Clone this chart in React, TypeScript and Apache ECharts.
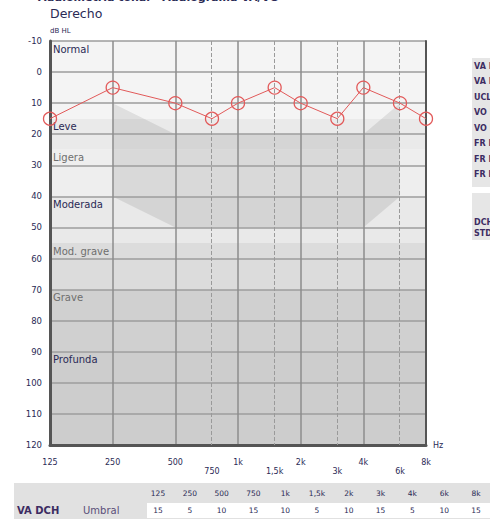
import React, { useEffect, useRef } from "react";
import * as echarts from "echarts";

// Test frequencies (Hz) and their printed labels
const FREQS = [125, 250, 500, 750, 1000, 1500, 2000, 3000, 4000, 6000, 8000];
const FREQ_LABELS = ["125", "250", "500", "750", "1k", "1,5k", "2k", "3k", "4k", "6k", "8k"];
// Air-conduction thresholds, right ear (dB HL)
const THRESHOLD_DB = [15, 5, 10, 15, 10, 5, 10, 15, 5, 10, 15];

const MID_FREQS = [750, 1500, 3000, 6000];

// Hearing-loss degree bands (dB HL edges)
const BAND_NAMES = ["Normal", "Leve", "Ligera", "Moderada", "Mod. grave", "Grave", "Profunda"];
const BAND_EDGES = [-10, 15, 25, 40, 55, 70, 90, 120];

// Speech-area outline (frequency, dB HL)
const SPEECH_FREQS = [250, 500, 4000, 6000, 6000, 4000, 500, 250];
const SPEECH_DB = [10, 20, 20, 10, 40, 50, 50, 40];

// Side legend entries
const LEGEND_ITEMS = ["VA DCH", "VA DCH enmasc.", "UCL DCH", "VO DCH", "VO DCH enmasc.", "FR DCH", "FR DCH enmasc.", "FR libre"];
const SIDE_ITEMS = ["DCH", "STD"];

const FONT = "DejaVu Sans";
const INK = "#2a2a55";
const BAND_FILLS = ["#f4f4f4", "#eaeaea", "#eeeeee", "#e9e9e9", "#dcdcdc", "#d0d0d0", "#cdcdcd"];
const BAND_INKS = [INK, INK, "#6e6e6e", INK, "#6e6e6e", "#6e6e6e", INK];

// Octave position relative to 125 Hz
const oct = (f: number) => Math.log2(f / 125);
const labelAt = (v: number) => {
  const i = FREQS.findIndex((f) => Math.abs(oct(f) - v) < 1e-6);
  return i >= 0 ? FREQ_LABELS[i] : "";
};

export default function App() {
  const ref = useRef<HTMLDivElement>(null);

  useEffect(() => {
    if (!ref.current) return;
    const chart = echarts.init(ref.current, undefined, { renderer: "svg" });

    const speechPts = SPEECH_FREQS.map((f, i) => [oct(f), SPEECH_DB[i]]);
    const bandData = BAND_NAMES.map((_, i) => [BAND_EDGES[i], BAND_EDGES[i + 1]]);

    const tableColX = (i: number) => 158 + i * 31.8;
    const graphic: any[] = [
      {
        type: "text", x: 38, y: -8,
        style: { text: "Audiometría tonal - Audiograma VA/VO", fontFamily: FONT, fontSize: 11, fontWeight: "bold", fill: INK },
      },
      {
        type: "text", x: 50, y: 7,
        style: { text: "Derecho", fontFamily: FONT, fontSize: 12.5, fill: INK },
      },
      {
        type: "text", x: 50, y: 27,
        style: { text: "dB HL", fontFamily: FONT, fontSize: 7, fill: INK },
      },
      // side legend boxes
      { type: "rect", shape: { x: 472, y: 58, width: 40, height: 129 }, style: { fill: "#e6e6e6" } },
      ...LEGEND_ITEMS.map((t, i) => ({
        type: "text", x: 474, y: 66 + i * 15.5,
        style: { text: t, fontFamily: FONT, fontSize: 8, fontWeight: "bold", fill: "#3c2c62", verticalAlign: "middle" },
      })),
      { type: "rect", shape: { x: 472, y: 193, width: 40, height: 47 }, style: { fill: "#e6e6e6" } },
      ...SIDE_ITEMS.map((t, i) => ({
        type: "text", x: 474, y: 222 + i * 11,
        style: { text: t, fontFamily: FONT, fontSize: 8, fontWeight: "bold", fill: "#3c2c62", verticalAlign: "middle" },
      })),
      // threshold table
      { type: "rect", shape: { x: 14, y: 483, width: 476, height: 36 }, style: { fill: "#e1e1e1" } },
      { type: "rect", shape: { x: 147, y: 503, width: 343, height: 15 }, style: { fill: "#ffffff" } },
      ...FREQ_LABELS.map((t, i) => ({
        type: "text", x: tableColX(i), y: 493,
        style: { text: t, fontFamily: FONT, fontSize: 7.5, fill: INK, align: "center", verticalAlign: "middle" },
      })),
      ...THRESHOLD_DB.map((v, i) => ({
        type: "text", x: tableColX(i), y: 510,
        style: { text: String(v), fontFamily: FONT, fontSize: 7.5, fill: INK, align: "center", verticalAlign: "middle" },
      })),
      {
        type: "text", x: 17, y: 510,
        style: { text: "VA DCH", fontFamily: FONT, fontSize: 10, fontWeight: "bold", fill: "#3c2c62", verticalAlign: "middle" },
      },
      {
        type: "text", x: 83, y: 510,
        style: { text: "Umbral", fontFamily: FONT, fontSize: 10, fill: "#5a4e78", verticalAlign: "middle" },
      },
    ];

    chart.setOption({
      animation: false,
      backgroundColor: "#ffffff",
      grid: { left: 50, top: 41, width: 376, height: 404, outerBoundsMode: "none" },
      xAxis: [
        {
          type: "value", min: 0, max: 6, interval: 1, position: "bottom",
          axisLine: { show: true, onZero: false, lineStyle: { color: "#555555", width: 3 } },
          axisTick: { show: false },
          splitLine: { show: true, lineStyle: { color: "#8c8c8c", width: 1.5 } },
          axisLabel: { formatter: (v: number) => labelAt(v), fontFamily: FONT, fontSize: 8, color: INK, margin: 13 },
          name: "Hz", nameLocation: "end", nameGap: 7,
          nameTextStyle: { fontFamily: FONT, fontSize: 8, color: INK, padding: [0, 0, 8, 0] },
        },
        {
          type: "value", min: 0, max: 6, position: "bottom",
          axisLine: { show: false }, axisTick: { show: false }, splitLine: { show: false },
          axisLabel: {
            customValues: MID_FREQS.map(oct),
            formatter: (v: number) => labelAt(v),
            fontFamily: FONT, fontSize: 8, color: INK, margin: 22,
          },
        },
      ],
      yAxis: [
        {
          type: "value", inverse: true, min: -10, max: 120, interval: 10,
          axisLine: { show: true, onZero: false, lineStyle: { color: "#555555", width: 3 } },
          axisTick: { show: false },
          axisLabel: { fontFamily: FONT, fontSize: 8.5, color: INK, margin: 8 },
          splitLine: { show: true, lineStyle: { color: "#9c9c9c", width: 1.5 } },
        },
        {
          type: "value", inverse: true, min: -10, max: 120, position: "right",
          axisLine: { show: true, onZero: false, lineStyle: { color: "#555555", width: 2 } },
          axisTick: { show: false }, axisLabel: { show: false }, splitLine: { show: false },
        },
      ],
      series: [
        {
          name: "grados", type: "custom", z: -3, silent: true,
          data: bandData, encode: { y: [0, 1] },
          renderItem: (params: any, api: any) => {
            const i = params.dataIndex;
            const tl = api.coord([0, api.value(0)]);
            const br = api.coord([6, api.value(1)]);
            return {
              type: "group",
              children: [
                {
                  type: "rect",
                  shape: { x: tl[0], y: tl[1], width: br[0] - tl[0], height: br[1] - tl[1] },
                  style: { fill: BAND_FILLS[i] },
                },
                {
                  type: "text", x: tl[0] + 3, y: tl[1] + 3,
                  style: { text: BAND_NAMES[i], fontFamily: FONT, fontSize: 10, fill: BAND_INKS[i] },
                },
              ],
            };
          },
        },
        {
          name: "zona conversacional", type: "custom", z: -2, silent: true,
          data: speechPts, encode: { x: 0, y: 1 },
          renderItem: (params: any, api: any) => {
            if (params.dataIndex !== 0) return null;
            return {
              type: "polygon",
              shape: { points: speechPts.map((p) => api.coord(p)) },
              style: { fill: "rgba(0,0,0,0.085)" },
            };
          },
        },
        {
          name: "medias octavas", type: "line", data: [], z: 1, silent: true,
          markLine: {
            silent: true, symbol: ["none", "none"], label: { show: false },
            lineStyle: { type: "dashed", color: "#9a9a9a", width: 1 },
            data: MID_FREQS.map((f) => ({ xAxis: oct(f) })),
          },
        },
        {
          name: "VA DCH", type: "line", z: 5, clip: false,
          data: FREQS.map((f, i) => [oct(f), THRESHOLD_DB[i]]),
          symbol: "circle", symbolSize: 13,
          lineStyle: { color: "#e25a5a", width: 1 },
          itemStyle: { color: "rgba(255,255,255,0)", borderColor: "#e25a5a", borderWidth: 1.3 },
        },
      ],
      graphic,
    });

    return () => chart.dispose();
  }, []);

  return (
    <div
      ref={ref}
      style={{ position: "fixed", left: 0, top: 0, width: 490, height: 519, background: "#fff" }}
    />
  );
}
